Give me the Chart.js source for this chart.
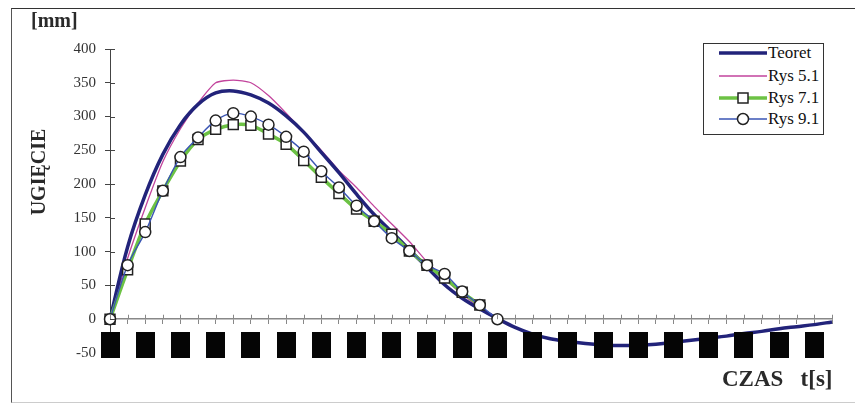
<!DOCTYPE html>
<html>
<head>
<meta charset="utf-8">
<script src="https://cdn.jsdelivr.net/npm/chart.js@4.4.1/dist/chart.umd.min.js"></script>
<style>
  html, body { margin: 0; padding: 0; background: #fff; }
  #wrap { position: relative; width: 855px; height: 403px; overflow: hidden; }
  #frame { position: absolute; left: 11px; top: 8px; width: 850px; height: 393px;
           border-top: 1px solid #333; border-left: 1px solid #555; border-bottom: 1px solid #ccc; }
  canvas { position: absolute; left: 0; top: 0; }
  .lbl { position: absolute; font-family: "Liberation Serif", "Times New Roman", serif;
         font-weight: bold; color: #2a2a2a; white-space: pre; line-height: 1; }
  #legend { position: absolute; left: 703px; top: 43px; width: 119px; height: 90px;
            border: 1px solid #333; background: #fff; }
  .lrow { position: absolute; left: 0; height: 16px; width: 119px; }
  .lrow svg { position: absolute; left: 15px; top: 0; }
  .lrow span { position: absolute; left: 64px; top: -2px; font-family: "Liberation Serif", serif;
               font-size: 17px; color: #111; line-height: 20px; }
</style>
</head>
<body>
<div id="wrap">
  <div id="frame"></div>
  <canvas id="c" width="855" height="403"></canvas>
  <div class="lbl" style="left:31px; top:10px; font-size:20px;">[mm]</div>
  <div class="lbl" style="left:38px; top:172px; font-size:20px; transform: translate(-50%,-50%) rotate(-90deg);">UGIĘCIE</div>
  <div class="lbl" style="left:722px; top:367px; font-size:23px;">CZAS   t[s]</div>
  <div id="legend"></div>
</div>
<script>
// ---- data ----
const czas = [0,1,2,3,4,5,6,7,8,9,10,11,12,13,14,15,16,17,18,19,20,21,22,23,24,25,26,27,28,29,30,31,32,33,34,35,36,37,38,39,40,41];
const teoret = [0,107,184,244,288,318,335,338,332,320,301,277,247,217,185,155,129,103,77,51,31,15,1,-12,-22,-29,-33,-36,-38,-39,-38.5,-37,-34,-31,-28,-25,-21,-18,-14,-11,-8,-4];
const rys51 = [0,90,165,233,282,320,350,354,350,331,305,277,250,220,195,167,141,115,85,60,37,18,2];
const rys71 = [0,73,141,190,234,266,281,288,287,274,259,235,210,186,163,145,126,101,80,61,40,21];
const rys91 = [0,80,129,190,240,269,294,305,300,288,270,248,219,195,168,145,120,101,80,67,41,21,0];
const seriesNames = ["Teoret", "Rys 5.1", "Rys 7.1", "Rys 9.1"];
const yTicks = [-50,0,50,100,150,200,250,300,350,400];
const labelTicks = [0,2,4,6,8,10,12,14,16,18,20,22,24,26,28,30,32,34,36,38,40];

const pts = arr => arr.map((v, i) => ({x: czas[i], y: v}));

const styles = [
  {color: '#22237a', width: 3.5, point: 'none', order: 2, tension: 0.35},
  {color: '#c2439c', width: 1.3, point: 'none', order: 3, tension: 0.2},
  {color: '#6cc244', width: 3.5, point: 'rect', order: 1, tension: 0.35},
  {color: '#3a55b4', width: 1.4, point: 'circle', order: 0, tension: 0.35}
];
const values = [teoret, rys51, rys71, rys91];

const datasets = values.map((arr, i) => {
  const s = styles[i];
  return {
    label: seriesNames[i],
    data: pts(arr),
    borderColor: s.color,
    borderWidth: s.width,
    backgroundColor: s.color,
    tension: s.tension,
    order: s.order,
    fill: false,
    clip: false,
    pointStyle: s.point === 'none' ? 'circle' : s.point,
    pointRadius: s.point === 'none' ? 0 : (s.point === 'rect' ? 7 : 5.5),
    pointBackgroundColor: '#fff',
    pointBorderColor: '#222',
    pointBorderWidth: 1.5,
    pointHoverRadius: 0
  };
});

// crossing tick marks + hidden (blacked-out) x labels
const axisExtras = {
  id: 'axisExtras',
  afterDraw(chart) {
    const ctx = chart.ctx;
    const xs = chart.scales.x, ys = chart.scales.y;
    const y0 = ys.getPixelForValue(0);
    const xl = xs.getPixelForValue(0);
    ctx.save();
    ctx.lineWidth = 1;
    ctx.strokeStyle = '#888';
    xs.ticks.forEach(t => {
      const px = Math.round(xs.getPixelForValue(t.value)) + 0.5;
      ctx.beginPath(); ctx.moveTo(px, y0 - 4.5); ctx.lineTo(px, y0); ctx.stroke();
    });
    ctx.strokeStyle = '#444';
    ys.ticks.forEach(t => {
      const py = Math.round(ys.getPixelForValue(t.value)) + 0.5;
      ctx.beginPath(); ctx.moveTo(xl, py); ctx.lineTo(xl + 5, py); ctx.stroke();
    });
    ctx.fillStyle = '#050505';
    labelTicks.forEach(v => {
      const px = xs.getPixelForValue(v);
      ctx.fillRect(Math.round(px - 9.5), Math.round(y0 + 13), 19, 26);
    });
    ctx.restore();
  }
};

new Chart(document.getElementById('c'), {
  type: 'line',
  data: { datasets },
  options: {
    responsive: false,
    animation: false,
    events: [],
    layout: { padding: { left: 40, top: 49, right: 23, bottom: 50 } },
    plugins: { legend: { display: false }, tooltip: { enabled: false } },
    scales: {
      x: {
        type: 'linear',
        position: { y: 0 },
        min: 0, max: 41,
        ticks: { stepSize: 1, display: false },
        grid: { drawOnChartArea: false, drawTicks: true, tickLength: 4.5, color: '#888', lineWidth: 1 },
        border: { display: true, color: '#888', width: 1.5 }
      },
      y: {
        type: 'linear',
        min: -50, max: 400,
        afterFit(scale) { scale.width = 70; },
        afterBuildTicks(scale) { scale.ticks = yTicks.map(v => ({value: v})); },
        ticks: { stepSize: 50, padding: 9, color: '#333',
                 font: { family: 'Liberation Serif', size: 15 } },
        grid: { drawOnChartArea: false, drawTicks: true, tickLength: 5, color: '#444', lineWidth: 1 },
        border: { display: true, color: '#444', width: 1 }
      }
    }
  },
  plugins: [axisExtras]
});

// legend built from the same series definitions
const legend = document.getElementById('legend');
const rowTops = [1, 24, 46, 67];
seriesNames.forEach((name, i) => {
  const s = styles[i];
  const row = document.createElement('div');
  row.className = 'lrow';
  row.style.top = rowTops[i] + 'px';
  let marker = '';
  if (s.point === 'rect') marker = '<rect x="19" y="3" width="10" height="10" fill="#fff" stroke="#222" stroke-width="1.5"/>';
  if (s.point === 'circle') marker = '<circle cx="24" cy="8" r="5.5" fill="#fff" stroke="#222" stroke-width="1.5"/>';
  row.innerHTML = '<svg width="48" height="16"><line x1="0" y1="8" x2="48" y2="8" stroke="' + s.color +
    '" stroke-width="' + s.width + '"/>' + marker + '</svg><span>' + name + '</span>';
  legend.appendChild(row);
});
</script>
</body>
</html>
